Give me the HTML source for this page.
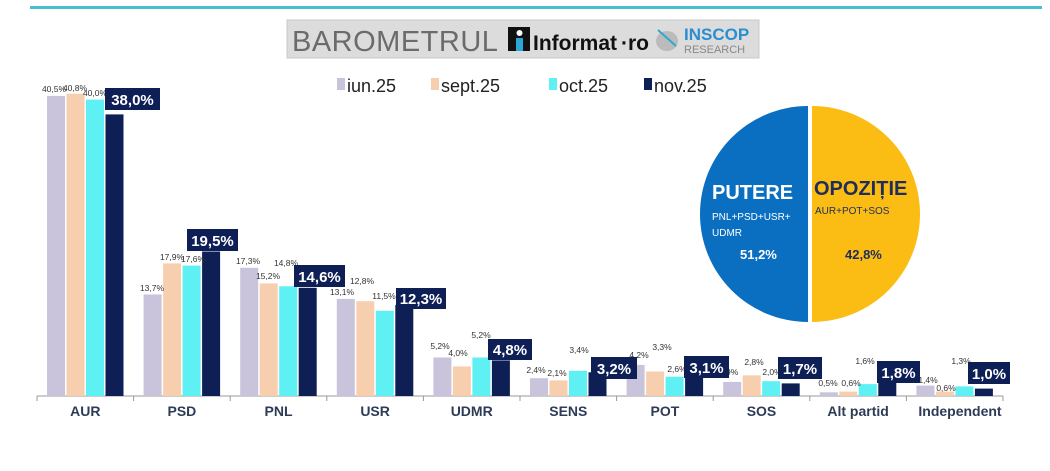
<!DOCTYPE html>
<html><head><meta charset="utf-8"><style>
body{margin:0;background:#fff;}
svg{display:block;font-family:"Liberation Sans",sans-serif;}
.s{font-size:8.5px;fill:#333;text-anchor:middle;}
.b{font-size:15px;font-weight:bold;fill:#fff;text-anchor:middle;}
.c{font-size:14px;font-weight:bold;fill:#2e3b57;text-anchor:middle;}
.l{font-size:18px;fill:#222;}
</style></head><body>
<svg width="1050" height="471" viewBox="0 0 1050 471">
<rect x="30" y="6" width="1012" height="3" fill="#49bfd3"/>
<!-- header -->
<rect x="287" y="20" width="472" height="38" fill="#dcdcdc" stroke="#c8c8c8"/>
<text x="292" y="51" font-size="29" fill="#6b6b6b" letter-spacing="0.5">BAROMETRUL</text>
<rect x="508" y="27" width="22" height="24" fill="#111"/>
<rect x="516" y="38" width="7" height="13" fill="#2aa7d6"/>
<circle cx="519.5" cy="33" r="3" fill="#fff"/>
<text x="533" y="50" font-size="21" font-weight="bold" fill="#111">Informat</text>
<text x="621" y="50" font-size="21" font-weight="bold" fill="#111">·ro</text>
<ellipse cx="667" cy="41" rx="11" ry="10" fill="#bbb"/>
<line x1="658" y1="30" x2="676" y2="46" stroke="#2aa7d6" stroke-width="2"/>
<text x="684" y="40" font-size="17" font-weight="bold" fill="#2a8fd0">INSCOP</text>
<text x="684" y="53" font-size="11" fill="#888">RESEARCH</text>
<!-- legend -->
<rect x="337" y="78" width="8" height="12" fill="#c9c3dc"/><text class="l" x="347" y="92">iun.25</text>
<rect x="431" y="78" width="8" height="12" fill="#f8cfae"/><text class="l" x="441" y="92">sept.25</text>
<rect x="549" y="78" width="8" height="12" fill="#5ef0f2"/><text class="l" x="559" y="92">oct.25</text>
<rect x="644" y="78" width="8" height="12" fill="#0e1f56"/><text class="l" x="654" y="92">nov.25</text>
<!-- axis -->
<line x1="37" y1="396" x2="1003" y2="396" stroke="#999" stroke-width="1"/>
<g stroke="#999"><line x1="37" y1="396" x2="37" y2="401"/><line x1="133.6" y1="396" x2="133.6" y2="401"/><line x1="230.2" y1="396" x2="230.2" y2="401"/><line x1="326.8" y1="396" x2="326.8" y2="401"/><line x1="423.4" y1="396" x2="423.4" y2="401"/><line x1="520" y1="396" x2="520" y2="401"/><line x1="616.6" y1="396" x2="616.6" y2="401"/><line x1="713.2" y1="396" x2="713.2" y2="401"/><line x1="809.8" y1="396" x2="809.8" y2="401"/><line x1="906.4" y1="396" x2="906.4" y2="401"/><line x1="1003" y1="396" x2="1003" y2="401"/></g>
<!-- bars -->
<g>
<rect x="47" y="95.9" width="18" height="300.1" fill="#c9c3dc"/><rect x="66.5" y="93.7" width="18" height="302.3" fill="#f8cfae"/><rect x="86" y="99.6" width="18" height="296.4" fill="#5ef0f2"/><rect x="105.5" y="114.4" width="18" height="281.6" fill="#0e1f56"/>
<rect x="143.6" y="294.5" width="18" height="101.5" fill="#c9c3dc"/><rect x="163.1" y="263.4" width="18" height="132.6" fill="#f8cfae"/><rect x="182.6" y="265.6" width="18" height="130.4" fill="#5ef0f2"/><rect x="202.1" y="251.5" width="18" height="144.5" fill="#0e1f56"/>
<rect x="240.2" y="267.8" width="18" height="128.2" fill="#c9c3dc"/><rect x="259.7" y="283.4" width="18" height="112.6" fill="#f8cfae"/><rect x="279.2" y="286.3" width="18" height="109.7" fill="#5ef0f2"/><rect x="298.7" y="287.8" width="18" height="108.2" fill="#0e1f56"/>
<rect x="336.8" y="298.9" width="18" height="97.1" fill="#c9c3dc"/><rect x="356.3" y="301.2" width="18" height="94.8" fill="#f8cfae"/><rect x="375.8" y="310.8" width="18" height="85.2" fill="#5ef0f2"/><rect x="395.3" y="304.9" width="18" height="91.1" fill="#0e1f56"/>
<rect x="433.4" y="357.5" width="18" height="38.5" fill="#c9c3dc"/><rect x="452.9" y="366.4" width="18" height="29.6" fill="#f8cfae"/><rect x="472.4" y="357.5" width="18" height="38.5" fill="#5ef0f2"/><rect x="491.9" y="360.4" width="18" height="35.6" fill="#0e1f56"/>
<rect x="530" y="378.2" width="18" height="17.8" fill="#c9c3dc"/><rect x="549.5" y="380.4" width="18" height="15.6" fill="#f8cfae"/><rect x="569" y="370.8" width="18" height="25.2" fill="#5ef0f2"/><rect x="588.5" y="372.3" width="18" height="23.7" fill="#0e1f56"/>
<rect x="626.6" y="364.9" width="18" height="31.1" fill="#c9c3dc"/><rect x="646.1" y="371.5" width="18" height="24.5" fill="#f8cfae"/><rect x="665.6" y="376.7" width="18" height="19.3" fill="#5ef0f2"/><rect x="685.1" y="373" width="18" height="23" fill="#0e1f56"/>
<rect x="723.2" y="381.9" width="18" height="14.1" fill="#c9c3dc"/><rect x="742.7" y="375.3" width="18" height="20.7" fill="#f8cfae"/><rect x="762.2" y="381.2" width="18" height="14.8" fill="#5ef0f2"/><rect x="781.7" y="383.4" width="18" height="12.6" fill="#0e1f56"/>
<rect x="819.8" y="392.3" width="18" height="3.7" fill="#c9c3dc"/><rect x="839.3" y="391.6" width="18" height="4.4" fill="#f8cfae"/><rect x="858.8" y="384.1" width="18" height="11.9" fill="#5ef0f2"/><rect x="878.3" y="382.7" width="18" height="13.3" fill="#0e1f56"/>
<rect x="916.4" y="385.6" width="18" height="10.4" fill="#c9c3dc"/><rect x="935.9" y="391.6" width="18" height="4.4" fill="#f8cfae"/><rect x="955.4" y="386.4" width="18" height="9.6" fill="#5ef0f2"/><rect x="974.9" y="388.6" width="18" height="7.4" fill="#0e1f56"/>
</g>
<!-- small labels -->
<g class="s">
<text x="54" y="92">40,5%</text><text x="75" y="91">40,8%</text><text x="95" y="96">40,0%</text>
<text x="152" y="291">13,7%</text><text x="172" y="260">17,9%</text><text x="193" y="262">17,6%</text>
<text x="248" y="264">17,3%</text><text x="268" y="279">15,2%</text><text x="286" y="266">14,8%</text>
<text x="342" y="295">13,1%</text><text x="362" y="284">12,8%</text><text x="384" y="299">11,5%</text>
<text x="440" y="349">5,2%</text><text x="458" y="356">4,0%</text><text x="481" y="338">5,2%</text>
<text x="536" y="373">2,4%</text><text x="557" y="376">2,1%</text><text x="579" y="353">3,4%</text>
<text x="639" y="358">4,2%</text><text x="662" y="350">3,3%</text><text x="677" y="372">2,6%</text>
<text x="731" y="375">,9%</text><text x="754" y="365">2,8%</text><text x="772" y="375">2,0%</text>
<text x="828" y="386">0,5%</text><text x="851" y="386">0,6%</text><text x="865" y="364">1,6%</text>
<text x="928" y="383">1,4%</text><text x="946" y="391">0,6%</text><text x="961" y="364">1,3%</text>
</g>
<!-- nov label boxes -->
<g>
<rect x="105" y="88" width="55" height="22" fill="#0e1f56"/><text class="b" x="132.5" y="105">38,0%</text>
<rect x="187" y="229" width="51" height="22" fill="#0e1f56"/><text class="b" x="212.5" y="246">19,5%</text>
<rect x="294" y="265" width="51" height="22" fill="#0e1f56"/><text class="b" x="319.5" y="282">14,6%</text>
<rect x="396" y="288" width="50" height="21" fill="#0e1f56"/><text class="b" x="421" y="304">12,3%</text>
<rect x="488" y="339" width="44" height="21" fill="#0e1f56"/><text class="b" x="510" y="355">4,8%</text>
<rect x="591" y="357" width="46" height="22" fill="#0e1f56"/><text class="b" x="614" y="374">3,2%</text>
<rect x="684" y="356" width="45" height="22" fill="#0e1f56"/><text class="b" x="706.5" y="373">3,1%</text>
<rect x="778" y="357" width="44" height="22" fill="#0e1f56"/><text class="b" x="800" y="374">1,7%</text>
<rect x="877" y="361" width="43" height="22" fill="#0e1f56"/><text class="b" x="898.5" y="378">1,8%</text>
<rect x="968" y="362" width="42" height="22" fill="#0e1f56"/><text class="b" x="989" y="379">1,0%</text>
</g>
<!-- category labels -->
<g class="c">
<text x="85.3" y="416">AUR</text><text x="181.9" y="416">PSD</text><text x="278.5" y="416">PNL</text><text x="375.1" y="416">USR</text><text x="471.7" y="416">UDMR</text><text x="568.3" y="416">SENS</text><text x="664.9" y="416">POT</text><text x="761.5" y="416">SOS</text><text x="858.1" y="416">Alt partid</text><text x="960" y="416">Independent</text>
</g>
<!-- pie -->
<path d="M808,106 A108,108 0 0 0 808,322 Z" fill="#0b6fc1"/>
<path d="M812,106 A108,108 0 0 1 812,322 Z" fill="#fbbd14"/>
<text x="712" y="199" font-size="20" font-weight="bold" fill="#fff">PUTERE</text>
<text x="712" y="220" font-size="10" fill="#fff">PNL+PSD+USR+</text>
<text x="712" y="236" font-size="10" fill="#fff">UDMR</text>
<text x="740" y="259" font-size="13" font-weight="bold" fill="#fff">51,2%</text>
<text x="814" y="195" font-size="20" font-weight="bold" fill="#1f2d5a">OPOZIȚIE</text>
<text x="815" y="214" font-size="10" fill="#1f2d5a">AUR+POT+SOS</text>
<text x="845" y="259" font-size="13" font-weight="bold" fill="#1f2d5a">42,8%</text>
</svg>
</body></html>
